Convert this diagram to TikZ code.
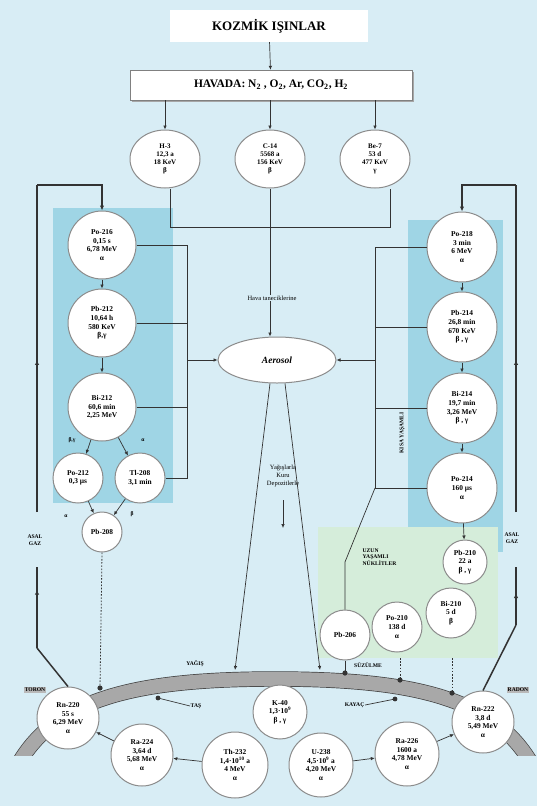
\documentclass[tikz,border=0pt]{standalone}
\usepackage{fontspec}
\setmainfont{Liberation Serif}
\usetikzlibrary{arrows.meta,shapes.geometric,decorations.markings,shadows}
\definecolor{bgc}{HTML}{D8EDF5}
\definecolor{bandc}{HTML}{9FD5E5}
\definecolor{greenc}{HTML}{D5EDDA}
\definecolor{ringc}{HTML}{8C8C8C}
\definecolor{linec}{HTML}{333333}
\definecolor{bandfill}{HTML}{A8A8A8}
\begin{document}
\begin{tikzpicture}[x=1pt,y=-1pt,
 nuc/.style={circle,draw=ringc,line width=1pt,fill=white,align=center,inner sep=0pt,font=\bfseries\fontsize{7.4}{8.6}\selectfont},
 ell/.style={ellipse,draw=ringc,line width=1pt,fill=white,align=center,inner sep=0pt,minimum width=70pt,minimum height=58pt,font=\bfseries\fontsize{7}{8.2}\selectfont},
 ln/.style={draw=linec,line width=0.7pt},
 arr/.style={ln,-{Latex[length=4pt,width=3.6pt]}},
 outer/.style={draw=linec,line width=1.5pt},
 midarrow/.style={postaction={decorate},decoration={markings,mark=at position #1 with {\arrow{Latex[length=5pt,width=4.5pt]}}}},
 dotln/.style={draw=linec,line width=0.8pt,dash pattern=on 1.6pt off 1.6pt},
 lab/.style={font=\bfseries\fontsize{5.6}{6.6}\selectfont,align=center,inner sep=0.5pt},
 tag/.style={font=\bfseries\fontsize{5.6}{6.6}\selectfont,fill=gray!55,inner sep=1pt},
 dotmark/.style={fill=linec},
]
\useasboundingbox (0,0) rectangle (537,806);
\fill[bgc] (0,0) rectangle (537,806);
% shaded regions
\fill[bandc] (53,208) rectangle (173,503);
\fill[bandc] (408,220) rectangle (503,552);
\fill[greenc] (318,527) rectangle (498,658);
% ground band
\begin{scope}
\clip (0,0) rectangle (537,755);
\draw[draw=gray!50!black,line width=0.7pt,double=bandfill,double distance=14pt]
  (14,772) .. controls (50,700) and (130,679) .. (275,679) .. controls (420,679) and (500,700) .. (536,772);
\end{scope}

% top boxes
\node[fill=white,minimum width=198pt,minimum height=32pt,font=\bfseries\fontsize{13}{15}\selectfont] (koz) at (269,26) {KOZMİK IŞINLAR};
\node[draw=gray,fill=white,minimum width=282pt,minimum height=30pt,
  drop shadow={shadow xshift=1.5pt,shadow yshift=-1.5pt,fill=gray!70,opacity=1},
  font=\bfseries\fontsize{11.5}{13}\selectfont] (hav) at (271,85) {HAVADA: N\textsubscript{2} , O\textsubscript{2}, Ar, CO\textsubscript{2}, H\textsubscript{2}};
\draw[arr] (koz) -- (hav);

\node[ell] (h3) at (165,159) {H-3\\12,3 a\\18 KeV\\β};
\node[ell] (c14) at (270,159) {C-14\\5568 a\\156 KeV\\β};
\node[ell] (be7) at (375,159) {Be-7\\53 d\\477 KeV\\γ};
\draw[arr] (hav.south -| h3) -- (h3);
\draw[arr] (hav.south -| c14) -- (c14);
\draw[arr] (hav.south -| be7) -- (be7);

\node[ellipse,draw=ringc,line width=1pt,fill=white,minimum width=118pt,minimum height=46pt,
  font=\bfseries\itshape\fontsize{9.5}{11}\selectfont] (aer) at (277,360) {Aerosol};

\coordinate (jL) at (170,227);
\coordinate (jR) at (390,227);
\draw[ln] (h3.south -| jL) -- (jL) -- (jR) -- (be7.south -| jR);
\draw[arr] (c14) -- (c14 |- aer.north);
\node[fill=bgc,inner sep=1pt,font=\fontsize{6.5}{8}\selectfont] (hava) at (272,298) {Hava taneciklerine};

% left chain (thorium)
\node[nuc,minimum size=68pt] (po216) at (102,245) {Po-216\\0,15 s\\6,78 MeV\\α};
\node[nuc,minimum size=68pt] (pb212) at (102,323) {Pb-212\\10,64 h\\580 KeV\\β,γ};
\node[nuc,minimum size=68pt] (bi212) at (102,407) {Bi-212\\60,6 min\\2,25 MeV};
\node[nuc,minimum size=50pt] (po212) at (78,478) {Po-212\\0,3 µs};
\node[nuc,minimum size=50pt] (tl208) at (140,478) {Tl-208\\3,1 min};
\node[nuc,minimum size=40pt] (pb208) at (102,532) {Pb-208};
\draw[arr] (po216) -- (pb212);
\draw[arr] (pb212) -- (bi212);
\draw[arr] (bi212) -- (po212);
\draw[arr] (bi212) -- (tl208);
\draw[arr] (po212) -- (pb208);
\draw[arr] (tl208) -- (pb208);
\node[lab] (lb1) at (72,440) {β,γ};
\node[lab] (lb2) at (143,440) {α};
\node[lab] (lb3) at (66,516) {α};
\node[lab] (lb4) at (132,514) {β};

\coordinate (cl) at (187,360);
\draw[ln] (po216.east) -- (po216.east -| cl) -- (tl208.east -| cl) -- (tl208.east);
\draw[ln] (pb212.east) -- (pb212.east -| cl);
\draw[ln] (bi212.east) -- (bi212.east -| cl);
\draw[arr] (cl) -- (aer.west);

% right chain (radon)
\node[nuc,minimum size=70pt] (po218) at (462,247) {Po-218\\3 min\\6 MeV\\α};
\node[nuc,minimum size=70pt] (pb214) at (462,327) {Pb-214\\26,8 min\\670 KeV\\β , γ};
\node[nuc,minimum size=70pt] (bi214) at (462,408) {Bi-214\\19,7 min\\3,26 MeV\\β , γ};
\node[nuc,minimum size=70pt] (po214) at (462,488) {Po-214\\160 µs\\α};
\node[nuc,minimum size=44pt] (pb210) at (465,562) {Pb-210\\22 a\\β , γ};
\node[nuc,minimum size=50pt] (bi210) at (451,613) {Bi-210\\5 d\\β};
\node[nuc,minimum size=50pt] (po210) at (397,627) {Po-210\\138 d\\α};
\node[nuc,minimum size=50pt] (pb206) at (345,635) {Pb-206};
\draw[arr] (po218) -- (pb214);
\draw[arr] (pb214) -- (bi214);
\draw[arr] (bi214) -- (po214);
\draw[arr] (po214) -- (pb210);

\coordinate (cr) at (375,360);
\coordinate (db) at (345,562);
\draw[ln] (po218.west) -- (po218.west -| cr) -- (po214.west -| cr) -- (po214.west);
\draw[ln] (pb214.west) -- (pb214.west -| cr);
\draw[ln] (bi214.west) -- (bi214.west -| cr);
\draw[arr] (cr) -- (aer.east);
\draw[ln] (po214.west -| cr) -- (db) -- (pb206.north);

\node[lab,rotate=90] (kisa) at (402,433) {KISA YAŞAMLI};
\node[lab,align=left,anchor=west] (uzun) at (362,557) {UZUN\\YAŞAMLI\\NÜKLİTLER};

% bottom chain
\node[nuc,minimum size=62pt] (rn220) at (68,718) {Rn-220\\55 s\\6,29 MeV\\α};
\node[nuc,minimum size=62pt] (ra224) at (142,755) {Ra-224\\3,64 d\\5,68 MeV\\α};
\node[nuc,minimum size=66pt] (th232) at (235,765) {Th-232\\1,4·10\textsuperscript{10} a\\4 MeV\\α};
\node[nuc,minimum size=64pt] (u238) at (321,765) {U-238\\4,5·10\textsuperscript{9} a\\4,20 MeV\\α};
\node[nuc,minimum size=64pt] (ra226) at (407,754) {Ra-226\\1600 a\\4,78 MeV\\α};
\node[nuc,minimum size=62pt] (rn222) at (483,722) {Rn-222\\3,8 d\\5,49 MeV\\α};
\node[nuc,minimum size=54pt] (k40) at (280,712) {K-40\\1,3·10\textsuperscript{9}\\β , γ};
\draw[arr] (th232) -- (ra224);
\draw[arr] (ra224) -- (rn220);
\draw[arr] (u238) -- (ra226);
\draw[arr] (ra226) -- (rn222);

% outer noble gas loops
\coordinate (ol1) at (37,512);
\coordinate (ol2) at (37,185);
\coordinate (ol4) at (37,567);
\coordinate (ol5) at (37,648);
\draw[outer,midarrow=0.465] (ol1) -- (ol2);
\draw[outer,-{Latex[length=5pt,width=4.5pt]}] (ol2) -- (ol2 -| po216) -- (po216.north);
\draw[outer] (rn220.north) -- (ol5);
\draw[outer,midarrow=0.72] (ol5) -- (ol4);

\coordinate (or1) at (516,512);
\coordinate (or2) at (516,185);
\coordinate (or4) at (516,567);
\coordinate (or5) at (516,625);
\draw[outer,midarrow=0.465] (or1) -- (or2);
\draw[outer,-{Latex[length=5pt,width=4.5pt]}] (or2) -- (or2 -| po218) -- (po218.north);
\draw[outer] (rn222.north) -- (or5);
\draw[outer,midarrow=0.55] (or5) -- (or4);

\node[lab] (asL) at (35,540) {ASAL\\GAZ};
\node[lab] (asR) at (512,538) {ASAL\\GAZ};
\node[tag] (toron) at (35,690) {TORON};
\node[tag] (radon) at (518,690) {RADON};

% aerosol deposition
\coordinate (yL) at (235,670);
\coordinate (yR) at (320,670);
\draw[arr] ([xshift=-7pt]aer.south) -- (yL);
\draw[arr] ([xshift=8pt]aer.south) -- (yR);
\node[lab,font=\fontsize{6.5}{8}\selectfont] (yag) at (283,476) {Yağışlarla\\Kuru\\Depozitlerle};
\coordinate (ya1) at (283,500);
\coordinate (ya2) at (283,528);
\draw[arr] (ya1) -- (ya2);

% dotted fall lines
\coordinate (d1) at (100,688);
\draw[dotln] (pb208.south) -- (d1);
\fill[dotmark] (d1) circle[radius=2.6];
\coordinate (d2a) at (400,658);
\coordinate (d2) at (400,680);
\draw[dotln] (d2a) -- (d2);
\fill[dotmark] (d2) circle[radius=2.6];
\coordinate (d3a) at (452,658);
\coordinate (d3) at (452,693);
\draw[dotln] (d3a) -- (d3);
\fill[dotmark] (d3) circle[radius=2.6];
\coordinate (d4) at (345,673);
\draw[ln] (pb206.south) -- (d4);
\fill[dotmark] (d4) circle[radius=2.6];

% band labels
\node[lab] (yagis) at (195,664) {YAĞIŞ};
\coordinate (t1) at (158,698);
\fill[dotmark] (t1) circle[radius=2.4];
\node[lab,anchor=west] (tas) at (190,706) {TAŞ};
\draw[ln] (t1) -- (tas.west);
\node[lab] (sub) at (368,665) {SÜZÜLME};
\coordinate (t2) at (395,699);
\fill[dotmark] (t2) circle[radius=2.4];
\node[lab,anchor=east] (kay) at (365,705) {KAYAÇ};
\draw[ln] (t2) -- (kay.east);
\end{tikzpicture}
\end{document}
